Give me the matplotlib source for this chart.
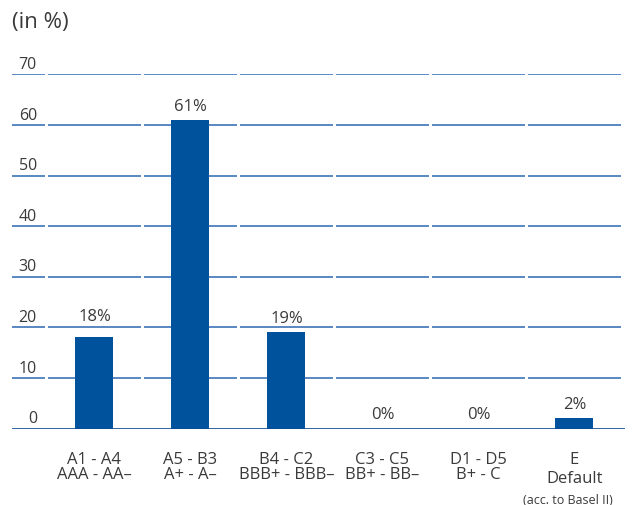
import matplotlib
matplotlib.use("Agg")
import matplotlib.pyplot as plt
from matplotlib.transforms import blended_transform_factory

plt.rcParams['font.family'] = ['Open Sans', 'DejaVu Sans']

# Rating classes (internal / external) and share of exposure in percent
internal = ["A1 - A4", "A5 - B3", "B4 - C2", "C3 - C5", "D1 - D5", "E"]
external = ["AAA - AA\u2013", "A+ - A\u2013", "BBB+ - BBB\u2013", "BB+ - BB\u2013", "B+ - C", "Default"]
footnote = "(acc. to Basel II)"
shares = [18, 61, 19, 0, 0, 2]
yticks = [0, 10, 20, 30, 40, 50, 60, 70]

BAR = "#00529c"
GRID = "#2b68b3"
BASE = "#0c4b92"
TEXT = "#3a3a3a"
WEIGHT = "normal"

W, H = 640, 506
fig = plt.figure(figsize=(W / 100, H / 100), dpi=100)

# axes spans the grid area: x in category units, y in percent
px0, px1 = 12, 625
py_top, py_zero = 75.3, 429.5
ax = fig.add_axes([px0 / W, 1 - py_zero / H, (px1 - px0) / W, (py_zero - py_top) / H])
step = 96.0
c0 = 94.5
ax.set_xlim((px0 - c0) / step, (px1 - c0) / step)
ax.set_ylim(0, 70)
ax.axis("off")

xs = list(range(len(internal)))
ax.bar(xs, shares, width=38 / step, color=BAR, zorder=2)

# segmented horizontal grid
half = 93 / step / 2
lab_l, lab_r = (12 - c0) / step, (44.7 - c0) / step
for v in yticks[1:]:
    ax.hlines(v, lab_l, lab_r, color=GRID, lw=1.1, zorder=1)
    for x in xs:
        ax.hlines(v, x - half, x + half, color=GRID, lw=1.1, zorder=1)
ax.hlines(0, (px0 - c0) / step, (px1 - c0) / step, color=BASE, lw=1.2, zorder=3)

# y tick labels, sitting above each line
tx = (37 - c0) / step
for v in yticks:
    ax.annotate(str(v), (tx, v), xytext=(0, 4.6), textcoords="offset points",
                ha="right", va="baseline", fontsize=11.5, color=TEXT, fontweight=WEIGHT,
                annotation_clip=False)

# value labels (the first one is lifted clear of the 20 grid line)
lift = {0: 5.0}
for x, s in zip(xs, shares):
    ax.annotate(f"{s}%", (x, s), xytext=(0, 7.2 + lift.get(x, 0)), textcoords="offset points",
                ha="center", va="baseline", fontsize=12, color=TEXT, fontweight=WEIGHT,
                annotation_clip=False)

# category labels
tr = blended_transform_factory(ax.transData, fig.transFigure)
for x, a, b in zip(xs, internal, external):
    y2 = 478.9 if x == len(xs) - 1 else 475.3
    ax.text(x, 1 - 460.3 / H, a, transform=tr, ha="center", va="center", fontsize=12,
            color=TEXT, fontweight=WEIGHT)
    ax.text(x, 1 - y2 / H, b, transform=tr, ha="center", va="center", fontsize=12,
            color=TEXT, fontweight=WEIGHT)
ax.text(xs[-1] - 7 / step, 1 - 500.5 / H, footnote, transform=tr, ha="center", va="center",
        fontsize=9, color=TEXT, fontweight=WEIGHT)

fig.text(12 / W, 1 - 22.5 / H, "(in %)", ha="left", va="center", fontsize=16,
         color=TEXT, fontweight=WEIGHT)

fig.savefig("out.png", dpi=100)
